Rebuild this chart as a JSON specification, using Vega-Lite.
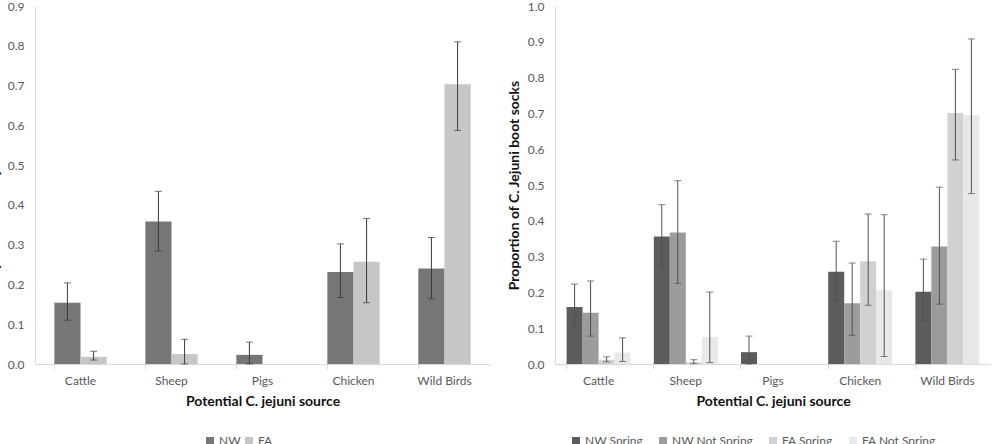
{
  "$schema": "https://vega.github.io/schema/vega-lite/v6.json",
  "padding": {"left": -13, "top": 0, "right": 0, "bottom": 0},
  "spacing": 17,
  "config": {
    "font": "Lato",
    "view": {"stroke": null},
    "axis": {
      "labelFont": "Lato", "titleFont": "Lato",
      "labelColor": "#595959", "labelFontSize": 12,
      "titleColor": "#111111", "titleFontWeight": "bold",
      "domainColor": "#d9d9d9", "tickColor": "#d9d9d9", "grid": false,
      "labelOverlap": false
    },
    "axisY": {"ticks": false, "labelPadding": 11, "titlePadding": 6, "titleFontSize": 14, "format": ".1f", "labelOverlap": false},
    "axisX": {"labelAngle": 0, "bandPosition": 0, "tickSize": 5, "labelPadding": 6, "titlePadding": 8, "titleFontSize": 14},
    "legend": {"labelFont": "Lato", "labelFontSize": 12, "labelColor": "#595959", "symbolType": "square", "symbolSize": 64, "symbolStrokeWidth": 0, "labelOffset": 3, "direction": "horizontal", "orient": "none", "title": null}
  },
  "datasets": {
    "overall": [
      {"source": "Cattle", "group": "NW", "value": 0.154, "lo": 0.110, "hi": 0.204},
      {"source": "Cattle", "group": "FA", "value": 0.018, "lo": 0.010, "hi": 0.032},
      {"source": "Sheep", "group": "NW", "value": 0.358, "lo": 0.284, "hi": 0.434},
      {"source": "Sheep", "group": "FA", "value": 0.025, "lo": 0.000, "hi": 0.062},
      {"source": "Pigs", "group": "NW", "value": 0.023, "lo": 0.000, "hi": 0.055},
      {"source": "Pigs", "group": "FA", "value": 0.0, "lo": null, "hi": null},
      {"source": "Chicken", "group": "NW", "value": 0.231, "lo": 0.167, "hi": 0.302},
      {"source": "Chicken", "group": "FA", "value": 0.257, "lo": 0.154, "hi": 0.366},
      {"source": "Wild Birds", "group": "NW", "value": 0.240, "lo": 0.164, "hi": 0.318},
      {"source": "Wild Birds", "group": "FA", "value": 0.703, "lo": 0.587, "hi": 0.810}
    ],
    "seasonal": [
      {"source": "Cattle", "group": "NW Spring", "value": 0.159, "lo": 0.104, "hi": 0.223},
      {"source": "Cattle", "group": "NW Not Spring", "value": 0.143, "lo": 0.078, "hi": 0.232},
      {"source": "Cattle", "group": "FA Spring", "value": 0.012, "lo": 0.006, "hi": 0.020},
      {"source": "Cattle", "group": "FA Not Spring", "value": 0.032, "lo": 0.007, "hi": 0.073},
      {"source": "Sheep", "group": "NW Spring", "value": 0.356, "lo": 0.270, "hi": 0.445},
      {"source": "Sheep", "group": "NW Not Spring", "value": 0.367, "lo": 0.225, "hi": 0.512},
      {"source": "Sheep", "group": "FA Spring", "value": 0.005, "lo": 0.001, "hi": 0.012},
      {"source": "Sheep", "group": "FA Not Spring", "value": 0.075, "lo": 0.004, "hi": 0.201},
      {"source": "Pigs", "group": "NW Spring", "value": 0.033, "lo": 0.000, "hi": 0.078},
      {"source": "Pigs", "group": "NW Not Spring", "value": 0.0, "lo": null, "hi": null},
      {"source": "Pigs", "group": "FA Spring", "value": 0.0, "lo": null, "hi": null},
      {"source": "Pigs", "group": "FA Not Spring", "value": 0.0, "lo": null, "hi": null},
      {"source": "Chicken", "group": "NW Spring", "value": 0.258, "lo": 0.176, "hi": 0.343},
      {"source": "Chicken", "group": "NW Not Spring", "value": 0.170, "lo": 0.080, "hi": 0.282},
      {"source": "Chicken", "group": "FA Spring", "value": 0.287, "lo": 0.164, "hi": 0.419},
      {"source": "Chicken", "group": "FA Not Spring", "value": 0.206, "lo": 0.021, "hi": 0.417},
      {"source": "Wild Birds", "group": "NW Spring", "value": 0.202, "lo": 0.121, "hi": 0.293},
      {"source": "Wild Birds", "group": "NW Not Spring", "value": 0.328, "lo": 0.167, "hi": 0.494},
      {"source": "Wild Birds", "group": "FA Spring", "value": 0.701, "lo": 0.570, "hi": 0.823},
      {"source": "Wild Birds", "group": "FA Not Spring", "value": 0.695, "lo": 0.476, "hi": 0.908}
    ]
  },
  "resolve": {"scale": {"color": "independent", "x": "independent", "y": "independent", "xOffset": "independent"}, "legend": {"color": "independent"}},
  "hconcat": [
    {
      "width": 455,
      "height": 358,
      "data": {"name": "overall"},
      "encoding": {
        "x": {"field": "source", "type": "nominal", "sort": ["Cattle", "Sheep", "Pigs", "Chicken", "Wild Birds"], "scale": {"paddingInner": 0.425, "paddingOuter": 0.2125}, "title": "Potential C. jejuni source"},
        "xOffset": {"field": "group", "type": "nominal", "sort": ["NW", "FA"]}
      },
      "layer": [
        {
          "mark": {"type": "bar"},
          "encoding": {
            "y": {"field": "value", "type": "quantitative", "scale": {"domain": [0, 0.9], "nice": false}, "axis": {"values": [0, 0.1, 0.2, 0.3, 0.4, 0.5, 0.6, 0.7, 0.8, 0.9], "labelOverlap": false, "tickCount": 10}, "title": "Proportion of C. Jejuni boot socks"},
            "color": {"field": "group", "type": "nominal", "sort": ["NW", "FA"], "scale": {"domain": ["NW", "FA"], "range": ["#767676", "#c6c6c6"]}, "legend": {"legendX": 169, "legendY": 429, "columnPadding": 2}}
          }
        },
        {
          "mark": {"type": "rule", "color": "#3a3a3a", "strokeWidth": 1},
          "encoding": {"y": {"field": "lo", "type": "quantitative", "scale": {"domain": [0, 0.9], "nice": false}, "axis": {"values": [0, 0.1, 0.2, 0.3, 0.4, 0.5, 0.6, 0.7, 0.8, 0.9], "labelOverlap": false, "tickCount": 10}, "title": "Proportion of C. Jejuni boot socks"}, "y2": {"field": "hi"}}
        },
        {
          "mark": {"type": "tick", "color": "#3a3a3a", "size": 7, "thickness": 1},
          "encoding": {"y": {"field": "lo", "type": "quantitative", "scale": {"domain": [0, 0.9], "nice": false}, "axis": {"values": [0, 0.1, 0.2, 0.3, 0.4, 0.5, 0.6, 0.7, 0.8, 0.9], "labelOverlap": false, "tickCount": 10}, "title": "Proportion of C. Jejuni boot socks"}}
        },
        {
          "mark": {"type": "tick", "color": "#3a3a3a", "size": 7, "thickness": 1},
          "encoding": {"y": {"field": "hi", "type": "quantitative", "scale": {"domain": [0, 0.9], "nice": false}, "axis": {"values": [0, 0.1, 0.2, 0.3, 0.4, 0.5, 0.6, 0.7, 0.8, 0.9], "labelOverlap": false, "tickCount": 10}, "title": "Proportion of C. Jejuni boot socks"}}
        }
      ]
    },
    {
      "width": 436,
      "height": 358,
      "data": {"name": "seasonal"},
      "encoding": {
        "x": {"field": "source", "type": "nominal", "sort": ["Cattle", "Sheep", "Pigs", "Chicken", "Wild Birds"], "scale": {"paddingInner": 0.266, "paddingOuter": 0.133}, "title": "Potential C. jejuni  source"},
        "xOffset": {"field": "group", "type": "nominal", "sort": ["NW Spring", "NW Not Spring", "FA Spring", "FA Not Spring"]}
      },
      "layer": [
        {
          "mark": {"type": "bar"},
          "encoding": {
            "y": {"field": "value", "type": "quantitative", "scale": {"domain": [0, 1], "nice": false}, "axis": {"values": [0, 0.1, 0.2, 0.3, 0.4, 0.5, 0.6, 0.7, 0.8, 0.9, 1.0], "labelOverlap": false, "tickCount": 11}, "title": "Proportion of C. Jejuni boot socks"},
            "color": {"field": "group", "type": "nominal", "sort": ["NW Spring", "NW Not Spring", "FA Spring", "FA Not Spring"], "scale": {"domain": ["NW Spring", "NW Not Spring", "FA Spring", "FA Not Spring"], "range": ["#5c5c5c", "#9c9c9c", "#d1d1d1", "#e8e8e8"]}, "legend": {"legendX": 15, "legendY": 429, "columnPadding": 14}}
          }
        },
        {
          "mark": {"type": "rule", "color": "#505050", "strokeWidth": 1},
          "encoding": {"y": {"field": "lo", "type": "quantitative", "scale": {"domain": [0, 1], "nice": false}, "axis": {"values": [0, 0.1, 0.2, 0.3, 0.4, 0.5, 0.6, 0.7, 0.8, 0.9, 1.0], "labelOverlap": false, "tickCount": 11}, "title": "Proportion of C. Jejuni boot socks"}, "y2": {"field": "hi"}}
        },
        {
          "mark": {"type": "tick", "color": "#505050", "size": 7, "thickness": 1},
          "encoding": {"y": {"field": "lo", "type": "quantitative", "scale": {"domain": [0, 1], "nice": false}, "axis": {"values": [0, 0.1, 0.2, 0.3, 0.4, 0.5, 0.6, 0.7, 0.8, 0.9, 1.0], "labelOverlap": false, "tickCount": 11}, "title": "Proportion of C. Jejuni boot socks"}}
        },
        {
          "mark": {"type": "tick", "color": "#505050", "size": 7, "thickness": 1},
          "encoding": {"y": {"field": "hi", "type": "quantitative", "scale": {"domain": [0, 1], "nice": false}, "axis": {"values": [0, 0.1, 0.2, 0.3, 0.4, 0.5, 0.6, 0.7, 0.8, 0.9, 1.0], "labelOverlap": false, "tickCount": 11}, "title": "Proportion of C. Jejuni boot socks"}}
        }
      ]
    }
  ]
}
